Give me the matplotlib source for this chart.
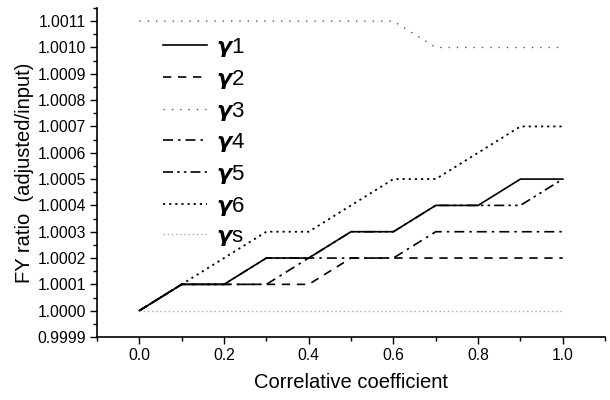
import matplotlib
matplotlib.use('Agg')
import matplotlib.pyplot as plt
from matplotlib.ticker import MultipleLocator, FormatStrFormatter

plt.rcParams['font.family'] = ['Liberation Sans', 'DejaVu Sans']
plt.rcParams['mathtext.fontset'] = 'custom'
plt.rcParams['mathtext.it'] = 'DejaVu Sans:italic:bold'
plt.rcParams['mathtext.rm'] = 'Liberation Sans'

coef = [0.0, 0.1, 0.2, 0.3, 0.4, 0.5, 0.6, 0.7, 0.8, 0.9, 1.0]
g1 = [1.0000, 1.0001, 1.0001, 1.0002, 1.0002, 1.0003, 1.0003, 1.0004, 1.0004, 1.0005, 1.0005]
g2 = [1.0000, 1.0001, 1.0001, 1.0001, 1.0001, 1.0002, 1.0002, 1.0002, 1.0002, 1.0002, 1.0002]
g3 = [1.0011, 1.0011, 1.0011, 1.0011, 1.0011, 1.0011, 1.0011, 1.0010, 1.0010, 1.0010, 1.0010]
g4 = [1.0000, 1.0001, 1.0001, 1.0001, 1.0002, 1.0002, 1.0002, 1.0003, 1.0003, 1.0003, 1.0003]
g5 = [1.0000, 1.0001, 1.0001, 1.0002, 1.0002, 1.0003, 1.0003, 1.0004, 1.0004, 1.0004, 1.0005]
g6 = [1.0000, 1.0001, 1.0002, 1.0003, 1.0003, 1.0004, 1.0005, 1.0005, 1.0006, 1.0007, 1.0007]
gs = [1.0000] * 11

fig = plt.figure(figsize=(6.1, 4), dpi=100)
ax = fig.add_axes([0.159, 0.1575, 0.833, 0.8225])

ax.plot(coef, g1, color='black', lw=1.2, ls='-', label=r'$\gamma$1')
ax.plot(coef, g2, color='black', lw=1.2, ls=(0, (5, 4)), label=r'$\gamma$2')
ax.plot(coef, g3, color='#555555', lw=1.0, ls=(0, (1, 5)), label=r'$\gamma$3')
ax.plot(coef, g4, color='black', lw=1.2, ls=(0, (6, 3, 1.5, 3)), label=r'$\gamma$4')
ax.plot(coef, g5, color='black', lw=1.2, ls=(0, (6, 2.5, 1.5, 2.5, 1.5, 2.5)), label=r'$\gamma$5')
ax.plot(coef, g6, color='black', lw=1.3, ls=(0, (1.2, 2.2)), label=r'$\gamma$6')
ax.plot(coef, gs, color='#aaaaaa', lw=1.0, ls=(0, (1, 2)), label=r'$\gamma$s')

ax.set_xlim(-0.1, 1.1)
ax.set_ylim(0.9999, 1.00115)
ax.xaxis.set_major_locator(MultipleLocator(0.2))
ax.xaxis.set_minor_locator(MultipleLocator(0.1))
ax.yaxis.set_major_locator(MultipleLocator(0.0001))
ax.yaxis.set_minor_locator(MultipleLocator(0.00005))
ax.xaxis.set_major_formatter(FormatStrFormatter('%.1f'))
ax.yaxis.set_major_formatter(FormatStrFormatter('%.4f'))
ax.tick_params(which='major', direction='out', length=5, width=1, labelsize=11.3, pad=3)
ax.tick_params(which='minor', direction='out', length=3, width=1)

for s in ['top', 'right']:
    ax.spines[s].set_visible(False)
for s in ['left', 'bottom']:
    ax.spines[s].set_linewidth(1.2)

ax.set_xlabel('Correlative coefficient', fontsize=14.5, labelpad=7)
ax.set_ylabel('FY ratio  (adjusted/input)', fontsize=14.5, labelpad=2)

leg = ax.legend(loc='upper left', bbox_to_anchor=(0.09, 0.975), frameon=False,
                fontsize=16, handlelength=2.0, labelspacing=0.39, handletextpad=0.4)

fig.savefig('out.png', dpi=100)
